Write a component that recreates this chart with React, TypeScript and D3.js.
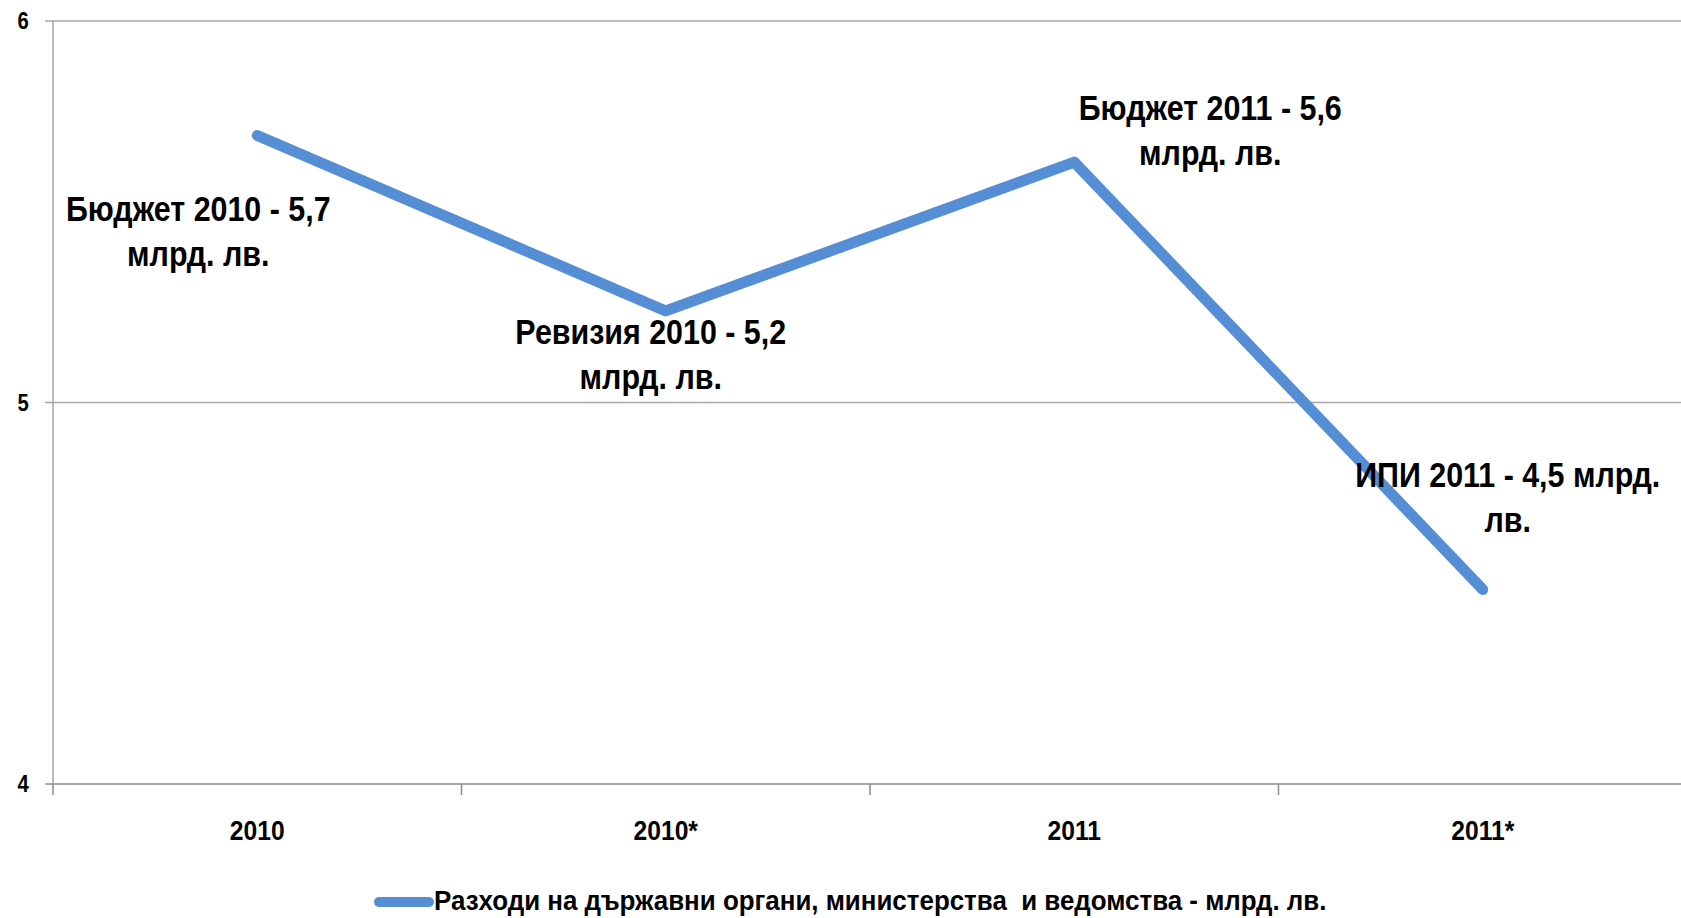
import React, { useEffect, useRef } from 'react';
import * as d3 from 'd3';

const categories = ['2010', '2010*', '2011', '2011*'];
const values = [5.7, 5.24, 5.63, 4.51];
const pointLabels = [
    ['Бюджет 2010 - 5,7', 'млрд. лв.'],
    ['Ревизия 2010 - 5,2', 'млрд. лв.'],
    ['Бюджет 2011 - 5,6', 'млрд. лв.'],
    ['ИПИ 2011 - 4,5 млрд.', 'лв.'],
];
const yTicks = [4, 5, 6];
const seriesName = 'Разходи на държавни органи, министерства  и ведомства - млрд. лв.';

// label offsets from their point (px)
const labelOffsets: [number, number][] = [
    [-59, 86],
    [-15, 33],
    [136, -42],
    [25, -102],
];

const FONT = '"Liberation Sans", Arial, sans-serif';

const App: React.FC = () => {
    const svgRef = useRef<SVGSVGElement | null>(null);

    useEffect(() => {
        document.body.style.margin = '0';
        const width = 1681;
        const height = 918;
        const margin = { top: 21, right: -6, bottom: 134, left: 53 };

        const svg = d3.select(svgRef.current)
            .attr('width', width)
            .attr('height', height);
        svg.selectAll('*').remove();

        const x = d3.scaleBand<string>()
            .domain(categories)
            .range([margin.left, width - margin.right])
            .paddingInner(0)
            .paddingOuter(0);
        const y = d3.scaleLinear()
            .domain([4, 6])
            .range([height - margin.bottom, margin.top]);
        const cx = (c: string) => (x(c) || 0) + x.bandwidth() / 2;

        // gridlines
        svg.append('g')
            .selectAll('line')
            .data(yTicks.filter(t => t > 4))
            .enter()
            .append('line')
            .attr('x1', margin.left - 8)
            .attr('x2', width)
            .attr('y1', d => y(d))
            .attr('y2', d => y(d))
            .attr('stroke', '#a6a6a6')
            .attr('stroke-width', 1.5);

        // y axis
        svg.append('line')
            .attr('x1', margin.left).attr('x2', margin.left)
            .attr('y1', y(6)).attr('y2', y(4))
            .attr('stroke', '#a6a6a6').attr('stroke-width', 1.5);

        svg.append('g')
            .selectAll('text')
            .data(yTicks)
            .enter()
            .append('text')
            .attr('transform', d => `translate(23,${y(d) + 8}) scale(0.88,1)`)
            .attr('text-anchor', 'middle')
            .style('font-family', FONT)
            .style('font-weight', 'bold')
            .style('font-size', '23px')
            .text(d => d);

        // x axis
        svg.append('line')
            .attr('x1', margin.left - 8).attr('x2', width)
            .attr('y1', y(4)).attr('y2', y(4))
            .attr('stroke', '#8c8c8c').attr('stroke-width', 1.5);

        const boundaries = categories.map(c => x(c) || 0);
        svg.append('g')
            .selectAll('line')
            .data(boundaries)
            .enter()
            .append('line')
            .attr('x1', d => d).attr('x2', d => d)
            .attr('y1', y(4)).attr('y2', y(4) + 11)
            .attr('stroke', '#8c8c8c').attr('stroke-width', 1.5);

        svg.append('g')
            .selectAll('text')
            .data(categories)
            .enter()
            .append('text')
            .attr('transform', d => `translate(${cx(d)},${y(4) + 56}) scale(0.88,1)`)
            .attr('text-anchor', 'middle')
            .style('font-family', FONT)
            .style('font-weight', 'bold')
            .style('font-size', '28px')
            .text(d => d);

        // line
        const line = d3.line<number>()
            .x((_, i) => cx(categories[i]))
            .y(d => y(d));

        svg.append('path')
            .datum(values)
            .attr('d', line)
            .attr('fill', 'none')
            .attr('stroke', '#558ed5')
            .attr('stroke-width', 11)
            .attr('stroke-linecap', 'round')
            .attr('stroke-linejoin', 'round');

        // point labels
        const labels = svg.append('g')
            .selectAll('text')
            .data(pointLabels)
            .enter()
            .append('text')
            .attr('transform', (_, i) => {
                const px = cx(categories[i]) + labelOffsets[i][0];
                const py = y(values[i]) + labelOffsets[i][1];
                return `translate(${px},${py}) scale(0.845,1)`;
            })
            .attr('text-anchor', 'middle')
            .style('font-family', FONT)
            .style('font-weight', 'bold')
            .style('font-size', '36px');

        labels.selectAll('tspan')
            .data(d => d)
            .enter()
            .append('tspan')
            .attr('x', 0)
            .attr('y', (_, j) => j * 45)
            .text(t => t);

        // legend
        const legend = svg.append('g');
        legend.append('line')
            .attr('x1', 379).attr('x2', 429)
            .attr('y1', 902).attr('y2', 902)
            .attr('stroke', '#558ed5')
            .attr('stroke-width', 10)
            .attr('stroke-linecap', 'round');
        legend.append('text')
            .attr('transform', 'translate(434,910) scale(0.96,1)')
            .style('font-family', FONT)
            .style('font-weight', 'bold')
            .style('font-size', '27px')
            .style('white-space', 'pre')
            .text(seriesName);
    }, []);

    return <svg ref={svgRef}></svg>;
};

export default App;
